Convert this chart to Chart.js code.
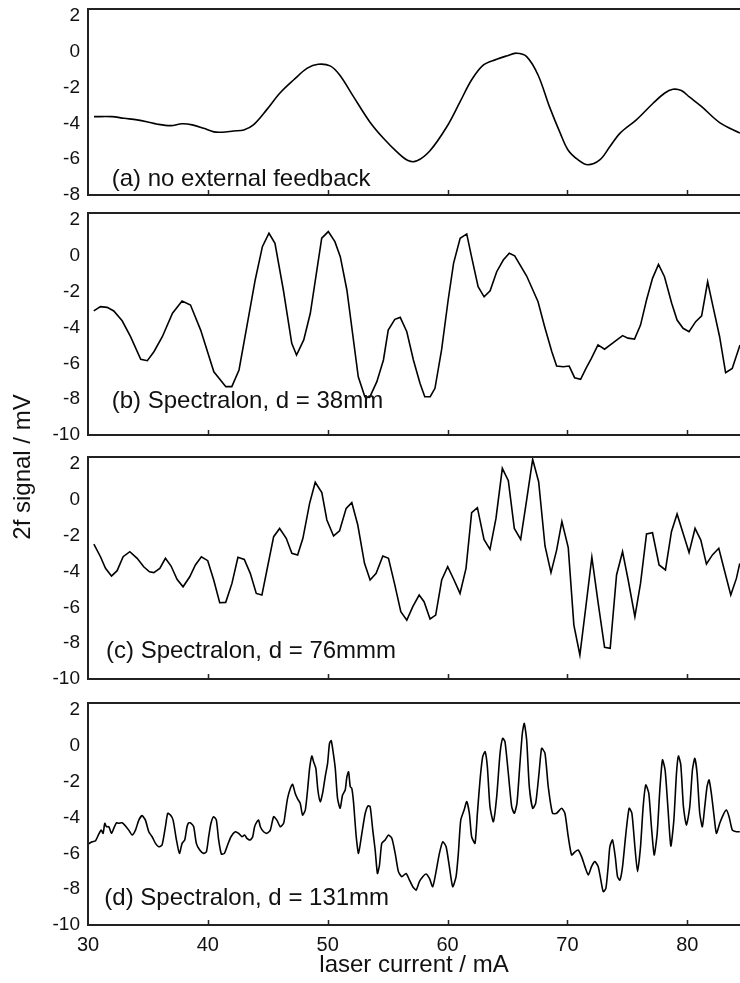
<!DOCTYPE html>
<html lang="en">
<head>
<meta charset="UTF-8">
<title>2f signal vs laser current</title>
<script src="https://cdn.jsdelivr.net/npm/chart.js"></script>
<style>
    * { margin: 0; padding: 0; box-sizing: border-box; }

    body {
        width: 740px;
        height: 983px;
        background: #fff;
        position: relative;
        overflow: hidden;
        font-family: Arial, "Liberation Sans", sans-serif;
    }

    canvas {
        position: absolute;
        left: 0;
        top: 0;
    }

    .y-title {
        position: absolute;
        left: -128px;
        top: 455px;
        width: 300px;
        height: 24px;
        line-height: 24px;
        text-align: center;
        font-size: 24px;
        color: #111;
        transform: rotate(-90deg);
    }
</style>
</head>
<body>
    <canvas id="panelA" width="740" height="983"></canvas>
    <canvas id="panelB" width="740" height="983"></canvas>
    <canvas id="panelC" width="740" height="983"></canvas>
    <canvas id="panelD" width="740" height="983"></canvas>
    <div class="y-title">2f signal / mV</div>

<script>
// axis ticks
const xTicks = [30, 40, 50, 60, 70, 80];
const yTicksA = [2, 0, -2, -4, -6, -8];
const yTicksBCD = [2, 0, -2, -4, -6, -8, -10];

// (a) no external feedback
const aX = [30.5, 32.0, 33.0, 34.1, 34.9, 35.8, 36.9, 37.85, 38.7, 39.65, 40.5, 41.2, 42.15, 43.0, 43.8, 44.9, 46.0, 47.15, 48.3, 49.2, 50.2, 51.0, 52.15, 53.5, 54.65, 55.75, 56.7, 57.45, 58.55, 59.95, 61.05, 62.0, 63.0, 64.1, 64.9, 65.75, 66.6, 67.55, 68.5, 69.4, 70.05, 70.9, 71.7, 72.7, 73.55, 74.4, 75.75, 77.15, 78.1, 78.8, 79.5, 80.2, 81.2, 82.7, 84.4];
const aY = [-3.62, -3.62, -3.71, -3.80, -3.90, -4.04, -4.12, -4.02, -4.08, -4.27, -4.47, -4.49, -4.42, -4.36, -4.08, -3.24, -2.31, -1.57, -0.91, -0.69, -0.78, -1.29, -2.50, -3.90, -4.83, -5.57, -6.07, -6.09, -5.51, -4.17, -2.78, -1.57, -0.73, -0.41, -0.23, -0.07, -0.26, -1.29, -3.06, -4.54, -5.48, -6.04, -6.31, -6.04, -5.29, -4.54, -3.80, -2.87, -2.31, -2.09, -2.16, -2.53, -3.06, -3.95, -4.54];

// (b) Spectralon, d = 38mm
const bX = [30.48, 31.04, 31.6, 32.15, 32.85, 33.55, 34.4, 34.95, 35.5, 36.2, 37.05, 37.85, 38.55, 39.4, 40.5, 41.5, 42.0, 42.6, 43.3, 43.95, 44.55, 45.1, 45.6, 46.3, 47.0, 47.4, 48.0, 48.55, 49.5, 50.05, 50.6, 51.05, 51.6, 52.55, 53.1, 53.5, 54.1, 54.65, 55.05, 55.6, 56.05, 56.6, 57.15, 57.7, 58.1, 58.55, 58.95, 59.5, 60.05, 60.5, 61.05, 61.6, 62.0, 62.55, 63.05, 63.55, 64.1, 64.65, 65.15, 65.6, 66.6, 67.55, 68.1, 68.7, 69.1, 69.65, 70.15, 70.6, 71.1, 71.55, 72.0, 72.55, 73.1, 73.8, 74.6, 75.05, 75.6, 76.1, 76.6, 77.1, 77.6, 78.1, 78.7, 79.15, 79.65, 80.15, 80.7, 81.2, 81.7, 82.15, 82.7, 83.2, 83.75, 84.4];
const bY = [-3.07, -2.83, -2.87, -3.07, -3.62, -4.51, -5.77, -5.85, -5.35, -4.51, -3.2, -2.52, -2.74, -4.14, -6.47, -7.30, -7.30, -6.37, -3.76, -1.34, 0.52, 1.27, 0.71, -1.90, -4.88, -5.53, -4.69, -3.2, 0.99, 1.36, 0.80, -0.04, -1.90, -6.75, -7.86, -7.9, -7.02, -5.81, -4.14, -3.54, -3.43, -4.23, -5.81, -7.11, -7.86, -7.86, -7.39, -5.25, -2.46, -0.41, 0.99, 1.23, -0.04, -1.72, -2.28, -1.94, -0.88, -0.23, 0.15, 0.01, -1.12, -2.56, -3.95, -5.35, -6.15, -6.19, -6.15, -6.80, -6.89, -6.28, -5.72, -4.97, -5.21, -4.85, -4.45, -4.59, -4.64, -3.86, -2.46, -1.25, -0.47, -1.16, -2.64, -3.58, -4.04, -4.23, -3.67, -3.35, -1.44, -2.83, -4.51, -6.52, -6.28, -4.97];

// (c) Spectralon, d = 76mmm
const cX = [30.49, 31.04, 31.46, 31.96, 32.43, 32.93, 33.49, 34.10, 34.65, 35.13, 35.49, 35.99, 36.46, 36.93, 37.43, 37.93, 38.49, 38.96, 39.46, 39.99, 40.49, 40.99, 41.49, 42.01, 42.51, 43.04, 43.54, 44.04, 44.51, 44.93, 45.49, 45.99, 46.54, 47.01, 47.49, 47.93, 48.49, 48.96, 49.51, 49.93, 50.49, 50.99, 51.54, 52.01, 52.51, 53.07, 53.54, 54.04, 54.60, 55.07, 55.57, 56.10, 56.60, 57.10, 57.63, 58.04, 58.54, 59.01, 59.51, 60.01, 60.54, 61.04, 61.54, 62.01, 62.49, 63.04, 63.54, 64.04, 64.57, 65.07, 65.57, 66.10, 66.60, 67.10, 67.60, 68.13, 68.63, 69.10, 69.54, 70.07, 70.54, 71.04, 71.54, 72.04, 72.57, 73.10, 73.57, 74.10, 74.60, 75.07, 75.63, 76.10, 76.60, 77.10, 77.65, 78.18, 78.68, 79.15, 79.65, 80.15, 80.65, 81.13, 81.60, 82.10, 82.63, 83.13, 83.63, 84.10, 84.38];
const cY = [-2.46, -3.17, -3.82, -4.25, -3.95, -3.17, -2.89, -3.26, -3.73, -4.01, -4.06, -3.82, -3.26, -3.69, -4.43, -4.85, -4.29, -3.63, -3.17, -3.39, -4.47, -5.74, -5.72, -4.66, -3.20, -3.32, -4.10, -5.22, -5.31, -3.91, -2.05, -1.59, -2.14, -2.98, -3.07, -2.14, -0.19, 0.99, 0.41, -1.12, -2.01, -1.72, -0.47, -0.15, -1.40, -3.54, -4.47, -4.10, -3.13, -3.26, -4.66, -6.24, -6.71, -5.96, -5.31, -5.68, -6.65, -6.43, -4.47, -3.73, -4.47, -5.22, -3.82, -0.71, -0.43, -2.20, -2.76, -1.03, 1.77, 1.08, -1.59, -2.20, 0.00, 2.27, 1.02, -2.57, -4.06, -2.80, -1.21, -2.66, -6.99, -8.66, -5.96, -3.20, -5.77, -8.23, -8.29, -4.19, -2.89, -4.47, -6.52, -4.66, -1.90, -1.83, -3.63, -3.91, -1.77, -0.78, -1.86, -2.94, -1.59, -2.24, -3.58, -3.07, -2.70, -4.01, -5.31, -4.38, -3.54];

// (d) Spectralon, d = 131mm
const dX = [30.0, 30.35, 30.63, 30.9, 31.1, 31.26, 31.4, 31.54, 31.74, 31.96, 32.15, 32.38, 32.57, 32.85, 33.13, 33.4, 33.68, 33.96, 34.24, 34.51, 34.79, 35.07, 35.35, 35.63, 35.9, 36.18, 36.46, 36.65, 36.88, 37.1, 37.38, 37.63, 37.85, 38.07, 38.26, 38.4, 38.6, 38.82, 39.04, 39.32, 39.65, 39.88, 40.07, 40.26, 40.49, 40.71, 40.9, 41.13, 41.38, 41.65, 41.93, 42.29, 42.57, 42.85, 43.07, 43.26, 43.54, 43.74, 43.9, 44.1, 44.24, 44.38, 44.65, 44.93, 45.21, 45.49, 45.76, 46.04, 46.32, 46.46, 46.65, 46.88, 47.07, 47.29, 47.51, 47.71, 47.9, 48.13, 48.32, 48.49, 48.68, 48.82, 49.01, 49.18, 49.38, 49.57, 49.79, 49.99, 50.15, 50.29, 50.43, 50.63, 50.82, 51.04, 51.24, 51.46, 51.6, 51.74, 51.88, 52.01, 52.15, 52.38, 52.57, 52.85, 53.13, 53.35, 53.54, 53.76, 53.96, 54.15, 54.32, 54.51, 54.79, 55.07, 55.35, 55.63, 55.90, 56.18, 56.54, 56.82, 57.1, 57.38, 57.65, 57.93, 58.21, 58.49, 58.76, 59.04, 59.32, 59.60, 59.88, 60.15, 60.43, 60.71, 60.90, 61.10, 61.38, 61.60, 61.82, 62.01, 62.29, 62.49, 62.71, 62.93, 63.13, 63.32, 63.54, 63.82, 64.10, 64.38, 64.60, 64.79, 65.07, 65.35, 65.57, 65.79, 66.04, 66.24, 66.40, 66.60, 66.82, 67.10, 67.35, 67.63, 67.85, 68.13, 68.40, 68.76, 69.10, 69.51, 69.79, 70.07, 70.35, 70.63, 70.90, 71.18, 71.46, 71.74, 72.01, 72.29, 72.57, 72.79, 72.99, 73.21, 73.40, 73.54, 73.76, 73.99, 74.18, 74.38, 74.60, 74.88, 75.15, 75.38, 75.63, 75.85, 76.10, 76.32, 76.54, 76.79, 77.01, 77.24, 77.49, 77.71, 77.93, 78.15, 78.38, 78.63, 78.88, 79.10, 79.26, 79.46, 79.68, 79.93, 80.21, 80.43, 80.63, 80.82, 81.04, 81.26, 81.46, 81.65, 81.82, 82.01, 82.21, 82.43, 82.71, 82.99, 83.26, 83.49, 83.76, 84.10, 84.38];
const dY = [-5.48, -5.35, -5.29, -4.92, -4.70, -4.88, -4.32, -4.51, -4.51, -4.88, -4.60, -4.29, -4.32, -4.29, -4.47, -4.70, -4.97, -4.70, -4.14, -3.89, -4.14, -4.79, -5.07, -5.44, -5.63, -5.53, -4.51, -3.76, -3.86, -4.14, -5.25, -6.00, -5.44, -5.25, -4.51, -4.29, -4.32, -4.51, -5.44, -5.81, -6.00, -5.91, -5.07, -4.32, -3.95, -4.14, -5.25, -6.04, -6.00, -5.53, -5.07, -4.79, -4.88, -5.07, -4.97, -5.16, -5.25, -5.07, -4.51, -4.23, -4.14, -4.51, -4.79, -4.88, -4.70, -3.95, -4.14, -4.51, -4.32, -3.76, -2.93, -2.37, -2.14, -2.65, -2.98, -3.21, -3.86, -3.58, -2.46, -1.25, -0.56, -0.88, -1.25, -2.46, -3.11, -2.65, -1.72, -0.97, 0.15, 0.30, -0.23, -1.25, -2.93, -3.48, -2.74, -2.46, -1.72, -1.44, -2.27, -2.37, -3.11, -5.07, -6.00, -4.88, -3.76, -3.35, -3.39, -4.70, -5.81, -7.12, -6.65, -5.44, -5.25, -4.97, -5.16, -6.00, -7.02, -7.30, -7.12, -7.49, -7.86, -8.05, -7.58, -7.30, -7.15, -7.40, -7.86, -7.02, -6.00, -5.35, -5.63, -6.74, -7.86, -7.30, -6.00, -4.14, -3.58, -3.11, -3.76, -5.07, -5.44, -3.76, -1.90, -0.60, -0.32, -1.16, -3.39, -4.23, -2.83, -0.41, 0.43, 0.24, -1.53, -3.39, -3.76, -3.21, -0.97, 0.71, 1.26, 0.33, -2.27, -3.48, -3.21, -1.53, -0.13, -0.41, -2.27, -3.76, -3.76, -3.48, -3.76, -5.07, -6.09, -5.91, -5.81, -6.18, -6.74, -7.21, -6.74, -6.46, -6.74, -7.49, -8.14, -7.95, -6.74, -5.63, -5.25, -6.18, -7.30, -7.49, -6.74, -4.88, -3.48, -3.76, -5.63, -7.02, -5.63, -3.39, -2.18, -2.65, -4.51, -6.09, -4.88, -2.46, -0.78, -1.34, -3.39, -5.59, -4.14, -1.53, -0.56, -1.06, -3.39, -4.42, -3.39, -1.34, -0.69, -1.53, -3.76, -4.51, -3.39, -2.27, -1.90, -2.65, -3.76, -4.88, -4.32, -3.86, -3.58, -3.95, -4.70, -4.79, -4.79];

const FONT = 'Arial, "Liberation Sans", sans-serif';
const INK = '#111';
const PAGE_H = 983;
const PLOT_LEFT = 88;

Chart.defaults.font.family = FONT;
Chart.defaults.color = INK;

// frame (left, top, bottom), inward x ticks and the panel caption
function framePlugin(note, noteX, noteY) {
    return {
        id: 'frame',
        afterDraw(chart) {
            const ctx = chart.ctx;
            const area = chart.chartArea;
            const xs = chart.scales.x;
            const ys = chart.scales.y;
            ctx.save();
            ctx.strokeStyle = '#222';
            ctx.lineWidth = 2;
            ctx.beginPath();
            ctx.moveTo(area.left, area.top);
            ctx.lineTo(area.right + 2, area.top);
            ctx.moveTo(area.left, area.top - 1);
            ctx.lineTo(area.left, area.bottom + 1);
            ctx.moveTo(area.left, area.bottom);
            ctx.lineTo(area.right + 2, area.bottom);
            ctx.stroke();

            ctx.lineWidth = 1.5;
            ctx.beginPath();
            xTicks.forEach(v => {
                if (v <= xs.min) return;
                const px = Math.round(xs.getPixelForValue(v)) + 0.5;
                ctx.moveTo(px, area.bottom);
                ctx.lineTo(px, area.bottom - 5);
            });
            ctx.stroke();

            ctx.fillStyle = INK;
            ctx.font = '24px ' + FONT;
            ctx.textAlign = 'left';
            ctx.textBaseline = 'alphabetic';
            ctx.fillText(note, xs.getPixelForValue(noteX), ys.getPixelForValue(noteY));
            ctx.restore();
        }
    };
}

function makePanel(id, xs, ys, yMin, yTicks, top, bottom, showX, tension, note, noteX, noteY) {
    const ctx = document.getElementById(id).getContext('2d');
    return new Chart(ctx, {
        type: 'line',
        data: {
            datasets: [{
                data: xs.map((x, i) => ({ x: x, y: ys[i] })),
                borderColor: '#000',
                borderWidth: 1.6,
                pointRadius: 0,
                tension: tension,
                fill: false
            }]
        },
        options: {
            responsive: false,
            animation: false,
            devicePixelRatio: 1,
            events: [],
            layout: {
                padding: { top: top, bottom: showX ? 0 : PAGE_H - bottom, left: 0, right: 0 }
            },
            plugins: {
                legend: { display: false },
                tooltip: { enabled: false }
            },
            scales: {
                x: {
                    type: 'linear',
                    min: 30,
                    max: 84.4,
                    afterBuildTicks: s => { s.ticks = xTicks.map(v => ({ value: v })); },
                    afterFit: s => {
                        s.height = showX ? PAGE_H - bottom : 0;
                        s.paddingLeft = 0;
                        s.paddingRight = 0;
                    },
                    grid: { display: false, drawTicks: false },
                    border: { display: false },
                    ticks: {
                        display: showX,
                        font: { size: 20 },
                        color: INK,
                        padding: 8,
                        maxRotation: 0,
                        autoSkip: false
                    },
                    title: {
                        display: showX,
                        text: 'laser current / mA',
                        font: { size: 24 },
                        color: INK,
                        padding: { top: 0, bottom: 3 }
                    }
                },
                y: {
                    min: yMin,
                    max: 2.4,
                    afterBuildTicks: s => { s.ticks = yTicks.map(v => ({ value: v })); },
                    afterFit: s => {
                        s.width = PLOT_LEFT;
                        s.paddingTop = 0;
                        s.paddingBottom = 0;
                    },
                    grid: { display: false, drawTicks: false },
                    border: { display: false },
                    ticks: {
                        font: { size: 19 },
                        color: INK,
                        padding: 8
                    }
                }
            }
        },
        plugins: [framePlugin(note, noteX, noteY)]
    });
}

makePanel('panelA', aX, aY, -8, yTicksA, 9, 195, false, 0.35, '(a) no external feedback', 31.98, -7.52);
makePanel('panelB', bX, bY, -10, yTicksBCD, 213, 435, false, 0, '(b) Spectralon, d = 38mm', 31.98, -8.49);
makePanel('panelC', cX, cY, -10, yTicksBCD, 457, 679, false, 0, '(c) Spectralon, d = 76mmm', 31.5, -8.83);
makePanel('panelD', dX, dY, -10, yTicksBCD, 703, 925, true, 0.2, '(d) Spectralon, d = 131mm', 31.36, -8.88);
</script>
</body>
</html>
